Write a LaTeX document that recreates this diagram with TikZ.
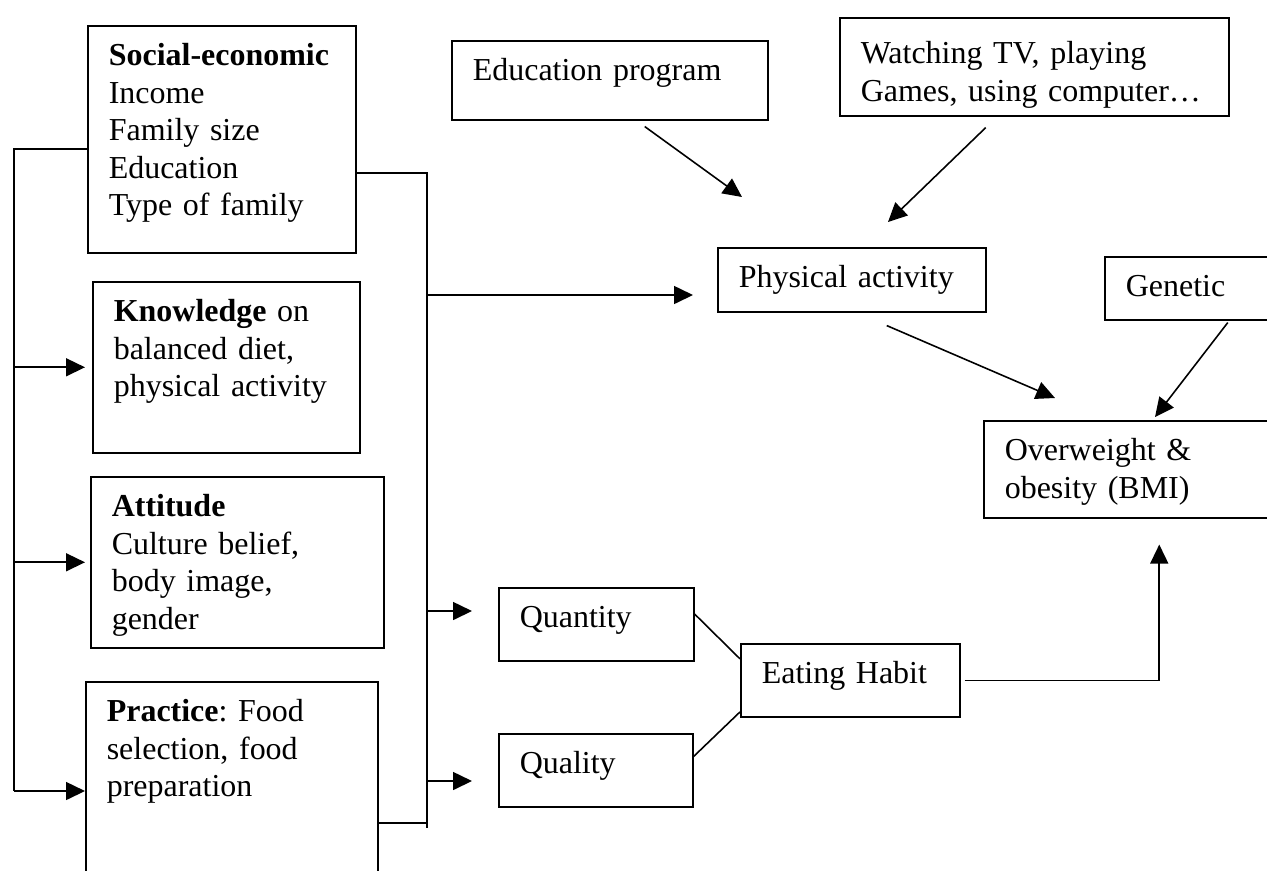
\documentclass[tikz,border=0pt]{standalone}
\usepackage{fontspec}
\setmainfont{Liberation Serif}
\usepackage{tikz}
\usetikzlibrary{arrows.meta, positioning, calc}
\frenchspacing

\begin{document}
\begin{tikzpicture}[
    x=0.02cm, y=-0.02cm,
    font=\fontsize{18.2pt}{21.3pt}\selectfont,
    box/.style 2 args={rectangle, draw, line width=0.9pt, anchor=north west, align=left, text width=#1, text height=0.6cm, text depth=#2, inner xsep=0.42cm, inner ysep=0.2cm},
    link/.style={line width=0.9pt},
    arrow/.style={line width=0.9pt, -{Triangle[length=3.8mm, width=3.6mm]}}
]

% Frame
\useasboundingbox (0,0) rectangle (1267,870);
\clip (0,0) rectangle (1267,870);

% Determinants
\node[box={4.52cm}{3.54cm}] (soc) at (87,25) {\textbf{Social-economic}\\Income\\Family size\\Education\\Type of family};
\node[box={4.50cm}{2.42cm}] (know) at (92,281) {\textbf{Knowledge} on\\balanced diet,\\physical activity};
\node[box={5.02cm}{2.42cm}] (att) at (90,476) {\textbf{Attitude}\\Culture belief,\\body image,\\gender};
\node[box={5.00cm}{3.08cm}] (prac) at (85,681) {\textbf{Practice}: Food\\selection, food\\preparation};

% Physical activity and outcome
\node[box={5.48cm}{0.58cm}] (edu) at (451,40) {Education program};
\node[box={6.94cm}{0.84cm}, text height=0.72cm] (tv) at (839,17) {Watching TV, playing\\Games, using computer…};
\node[box={4.52cm}{0.28cm}] (phys) at (717,247) {Physical activity};
\node[box={2.68cm}{0.26cm}] (gen) at (1104,256) {Genetic};
\node[box={5.10cm}{0.94cm}] (obes) at (983,420) {Overweight \&\\obesity (BMI)};

% Eating habit
\node[box={3.06cm}{0.46cm}] (quan) at (498,587) {Quantity};
\node[box={3.04cm}{0.46cm}] (qual) at (498,733) {Quality};
\node[box={3.54cm}{0.46cm}] (eat) at (740,643) {Eating Habit};

% Left bus
\coordinate (lbTop) at (14,149);
\coordinate (lbEnd) at (14,791);
\draw[link] (soc.west |- lbTop) -- (lbTop) -- (lbEnd);
\draw[arrow, shorten >=0.14cm] (lbTop |- know.west) -- (know.west);
\draw[arrow, shorten >=0.1cm] (lbTop |- att.west) -- (att.west);
\draw[arrow] (lbEnd) -- (prac.west |- lbEnd);

% Right bus
\coordinate (rbTop) at (427,173);
\coordinate (rbEnd) at (427,828);
\coordinate (rbPrac) at (427,823);
\coordinate (rbPhys) at (427,295);
\coordinate (rbQuan) at (427,611);
\coordinate (rbQual) at (427,781);
\draw[link] (soc.east |- rbTop) -- (rbTop) -- (rbEnd);
\draw[link] (prac.east |- rbPrac) -- (rbPrac);
\draw[arrow, shorten >=0.48cm] (rbPhys) -- (phys.west |- rbPhys);
\draw[arrow, shorten >=0.52cm] (rbQuan) -- (quan.west |- rbQuan);
\draw[arrow, shorten >=0.52cm] (rbQual) -- (qual.west |- rbQual);

% Diagonal arrows
\coordinate (eduTip) at (742,197);
\coordinate (tvTip) at (888,222);
\coordinate (physTip) at (1055,398);
\coordinate (genTip) at (1155,417);
\draw[arrow] ([xshift=0.7cm, yshift=-0.12cm]edu.south) -- (eduTip);
\draw[arrow] ([xshift=-0.97cm, yshift=-0.22cm]tv.south) -- (tvTip);
\draw[arrow] ([xshift=0.7cm, yshift=-0.26cm]phys.south) -- (physTip);
\draw[arrow] ([xshift=0.7cm, yshift=-0.04cm]gen.south) -- (genTip);

% Quantity/quality to eating habit
\draw[link] (quan.6) -- (eat.169);
\draw[link] (qual.8) -- (eat.196);
\draw[arrow, shorten <=0.08cm, shorten >=0.52cm] (eat.east) -| ([xshift=0.54cm]obes.south);

\end{tikzpicture}
\end{document}
